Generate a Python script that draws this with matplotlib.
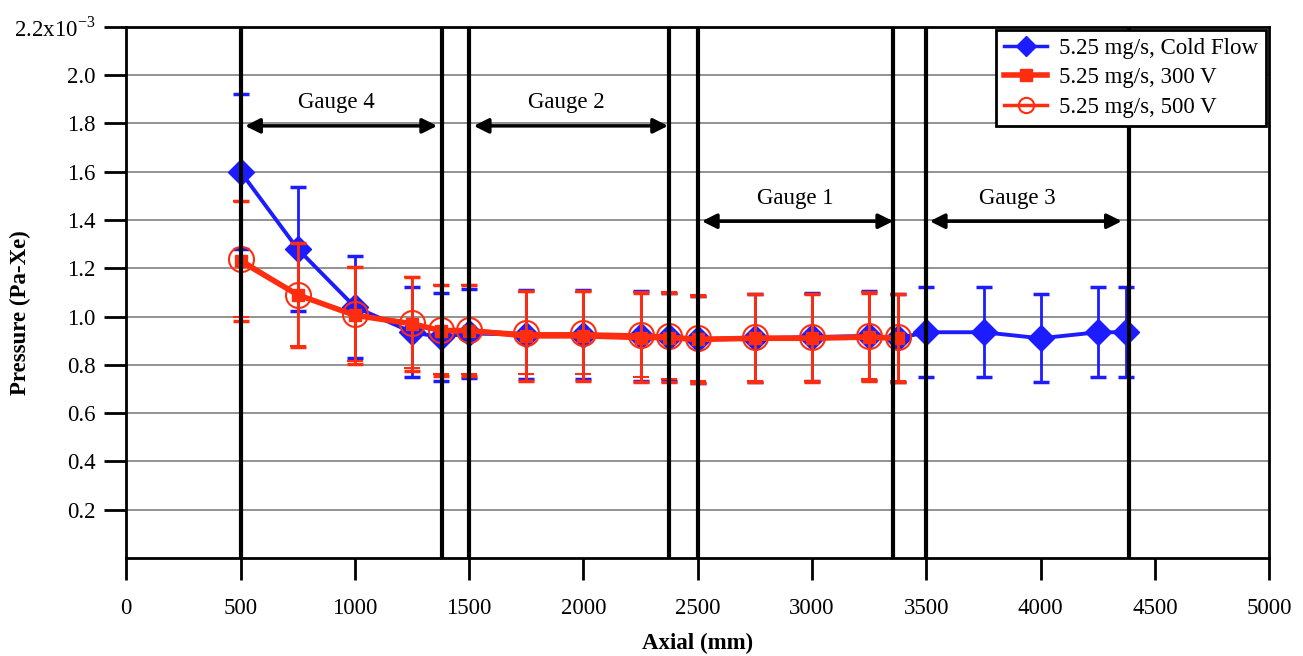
import matplotlib.pyplot as plt
from matplotlib.lines import Line2D

plt.rcParams['font.family'] = ['Liberation Serif', 'DejaVu Serif']
plt.rcParams['mathtext.fontset'] = 'custom'
plt.rcParams['mathtext.rm'] = 'Liberation Serif'

# cold flow data (Pa-Xe, x1e-3)
x_cold = [500, 750, 1000, 1250, 1375, 1500, 1750, 2000, 2250, 2375,
          2500, 2750, 3000, 3250, 3375, 3500, 3750, 4000, 4250, 4375]
p_cold = [1.60, 1.28, 1.04, 0.935, 0.915, 0.93, 0.925, 0.925, 0.92, 0.915,
          0.905, 0.91, 0.915, 0.92, 0.91, 0.935, 0.935, 0.91, 0.935, 0.935]
e_cold = [0.32, 0.255, 0.21, 0.187, 0.184, 0.186, 0.185, 0.185, 0.185, 0.183,
          0.181, 0.182, 0.183, 0.184, 0.182, 0.187, 0.187, 0.182, 0.187, 0.187]

# discharge on
x_hot = [500, 750, 1000, 1250, 1375, 1500, 1750, 2000, 2250, 2375,
         2500, 2750, 3000, 3250, 3375]
p_300 = [1.23, 1.09, 1.005, 0.97, 0.942, 0.942, 0.92, 0.92, 0.913, 0.913,
         0.905, 0.91, 0.91, 0.915, 0.91]
e_300 = [0.25, 0.215, 0.20, 0.195, 0.19, 0.19, 0.185, 0.185, 0.185, 0.185,
         0.182, 0.183, 0.183, 0.183, 0.183]
p_500 = [1.24, 1.09, 1.01, 0.975, 0.945, 0.945, 0.93, 0.93, 0.925, 0.92,
         0.91, 0.915, 0.915, 0.92, 0.915]
e_500 = [0.24, 0.21, 0.195, 0.19, 0.185, 0.185, 0.17, 0.17, 0.175, 0.18,
         0.178, 0.18, 0.18, 0.18, 0.18]

# gauge boundaries and labels
gauge_edges = [500, 1380, 1500, 2375, 2500, 3355, 3500, 4385]
gauge_names = ['Gauge 4', 'Gauge 2', 'Gauge 1', 'Gauge 3']
gauge_start = [520, 1520, 2518, 3515]
gauge_end = [1360, 2370, 3355, 4355]
gauge_arrow_y = [1.79, 1.79, 1.395, 1.395]
gauge_text_x = [917, 1924, 2925, 3900]
gauge_text_y = [1.885, 1.885, 1.49, 1.49]

yticks = [0.2, 0.4, 0.6, 0.8, 1.0, 1.2, 1.4, 1.6, 1.8, 2.0, 2.2]
ytick_labels = ['%.1f' % v for v in yticks[:-1]] + [r'2.2x10$^{\mathregular{-3}}$']

blue = '#1c1cff'
red = '#ff2d0f'
fs = 16.5

fig = plt.figure(figsize=(13.03, 6.56), dpi=100)
ax = fig.add_axes([0.0969, 0.1495, 0.8772, 0.8095])

ax.errorbar(x_cold, p_cold, yerr=e_cold, color=blue, marker='D', ms=13,
            lw=2.8, elinewidth=2, capsize=6, capthick=2.5, zorder=3)
ax.errorbar(x_hot, p_300, yerr=e_300, color=red, marker='s', ms=9,
            lw=4, elinewidth=2, capsize=6, capthick=2.5, zorder=4)
ax.errorbar(x_hot, p_500, yerr=e_500, color=red, marker='o', ms=18,
            mfc='none', mew=1.5, lw=2, elinewidth=1.5, capsize=6,
            capthick=2, zorder=4)

# gauge boundaries
for g in gauge_edges:
    ax.axvline(g, color='k', lw=3, zorder=6)

for name, x0, x1, ya, xt, yt in zip(gauge_names, gauge_start, gauge_end,
                                    gauge_arrow_y, gauge_text_x, gauge_text_y):
    ax.annotate('', xy=(x1, ya), xytext=(x0, ya),
                arrowprops=dict(arrowstyle='<|-|>', color='k', lw=2.5,
                                mutation_scale=22, shrinkA=0, shrinkB=0),
                zorder=7)
    ax.text(xt, yt, name, ha='center', va='center', fontsize=fs)

ax.set_xlim(0, 5000)
ax.set_ylim(0, 2.2)
ax.set_xticks(range(0, 5001, 500))
ax.set_yticks(yticks)
ax.set_yticklabels(ytick_labels)
ax.yaxis.grid(True, color='#808080', lw=1.2)
ax.set_axisbelow(True)
ax.tick_params(direction='out', length=16, width=2, labelsize=fs)
ax.tick_params(axis='x', pad=13)
ax.tick_params(axis='y', pad=6)
for s in ax.spines.values():
    s.set_linewidth(2)

ax.set_xlabel('Axial (mm)', fontsize=fs, fontweight='bold', labelpad=10)
ax.set_ylabel('Pressure (Pa-Xe)', fontsize=fs, fontweight='bold')
ax.yaxis.set_label_coords(-0.083, 0.461)

handles = [
    Line2D([], [], color=blue, marker='D', ms=10, lw=2.5),
    Line2D([], [], color=red, marker='s', ms=9, lw=4),
    Line2D([], [], color=red, marker='o', ms=11, mfc='none', mew=1.5, lw=2.5),
]
labels = ['5.25 mg/s, Cold Flow', '5.25 mg/s, 300 V', '5.25 mg/s, 500 V']
leg = ax.legend(handles, labels, loc='upper right', bbox_to_anchor=(1.0, 1.0),
                borderaxespad=0.15, fontsize=fs, fancybox=False,
                edgecolor='k', framealpha=1, labelspacing=0.35,
                handlelength=1.9, handletextpad=0.5, borderpad=0.35)
leg.get_frame().set_linewidth(2)
leg.set_zorder(10)

fig.savefig('out.png', dpi=100)
